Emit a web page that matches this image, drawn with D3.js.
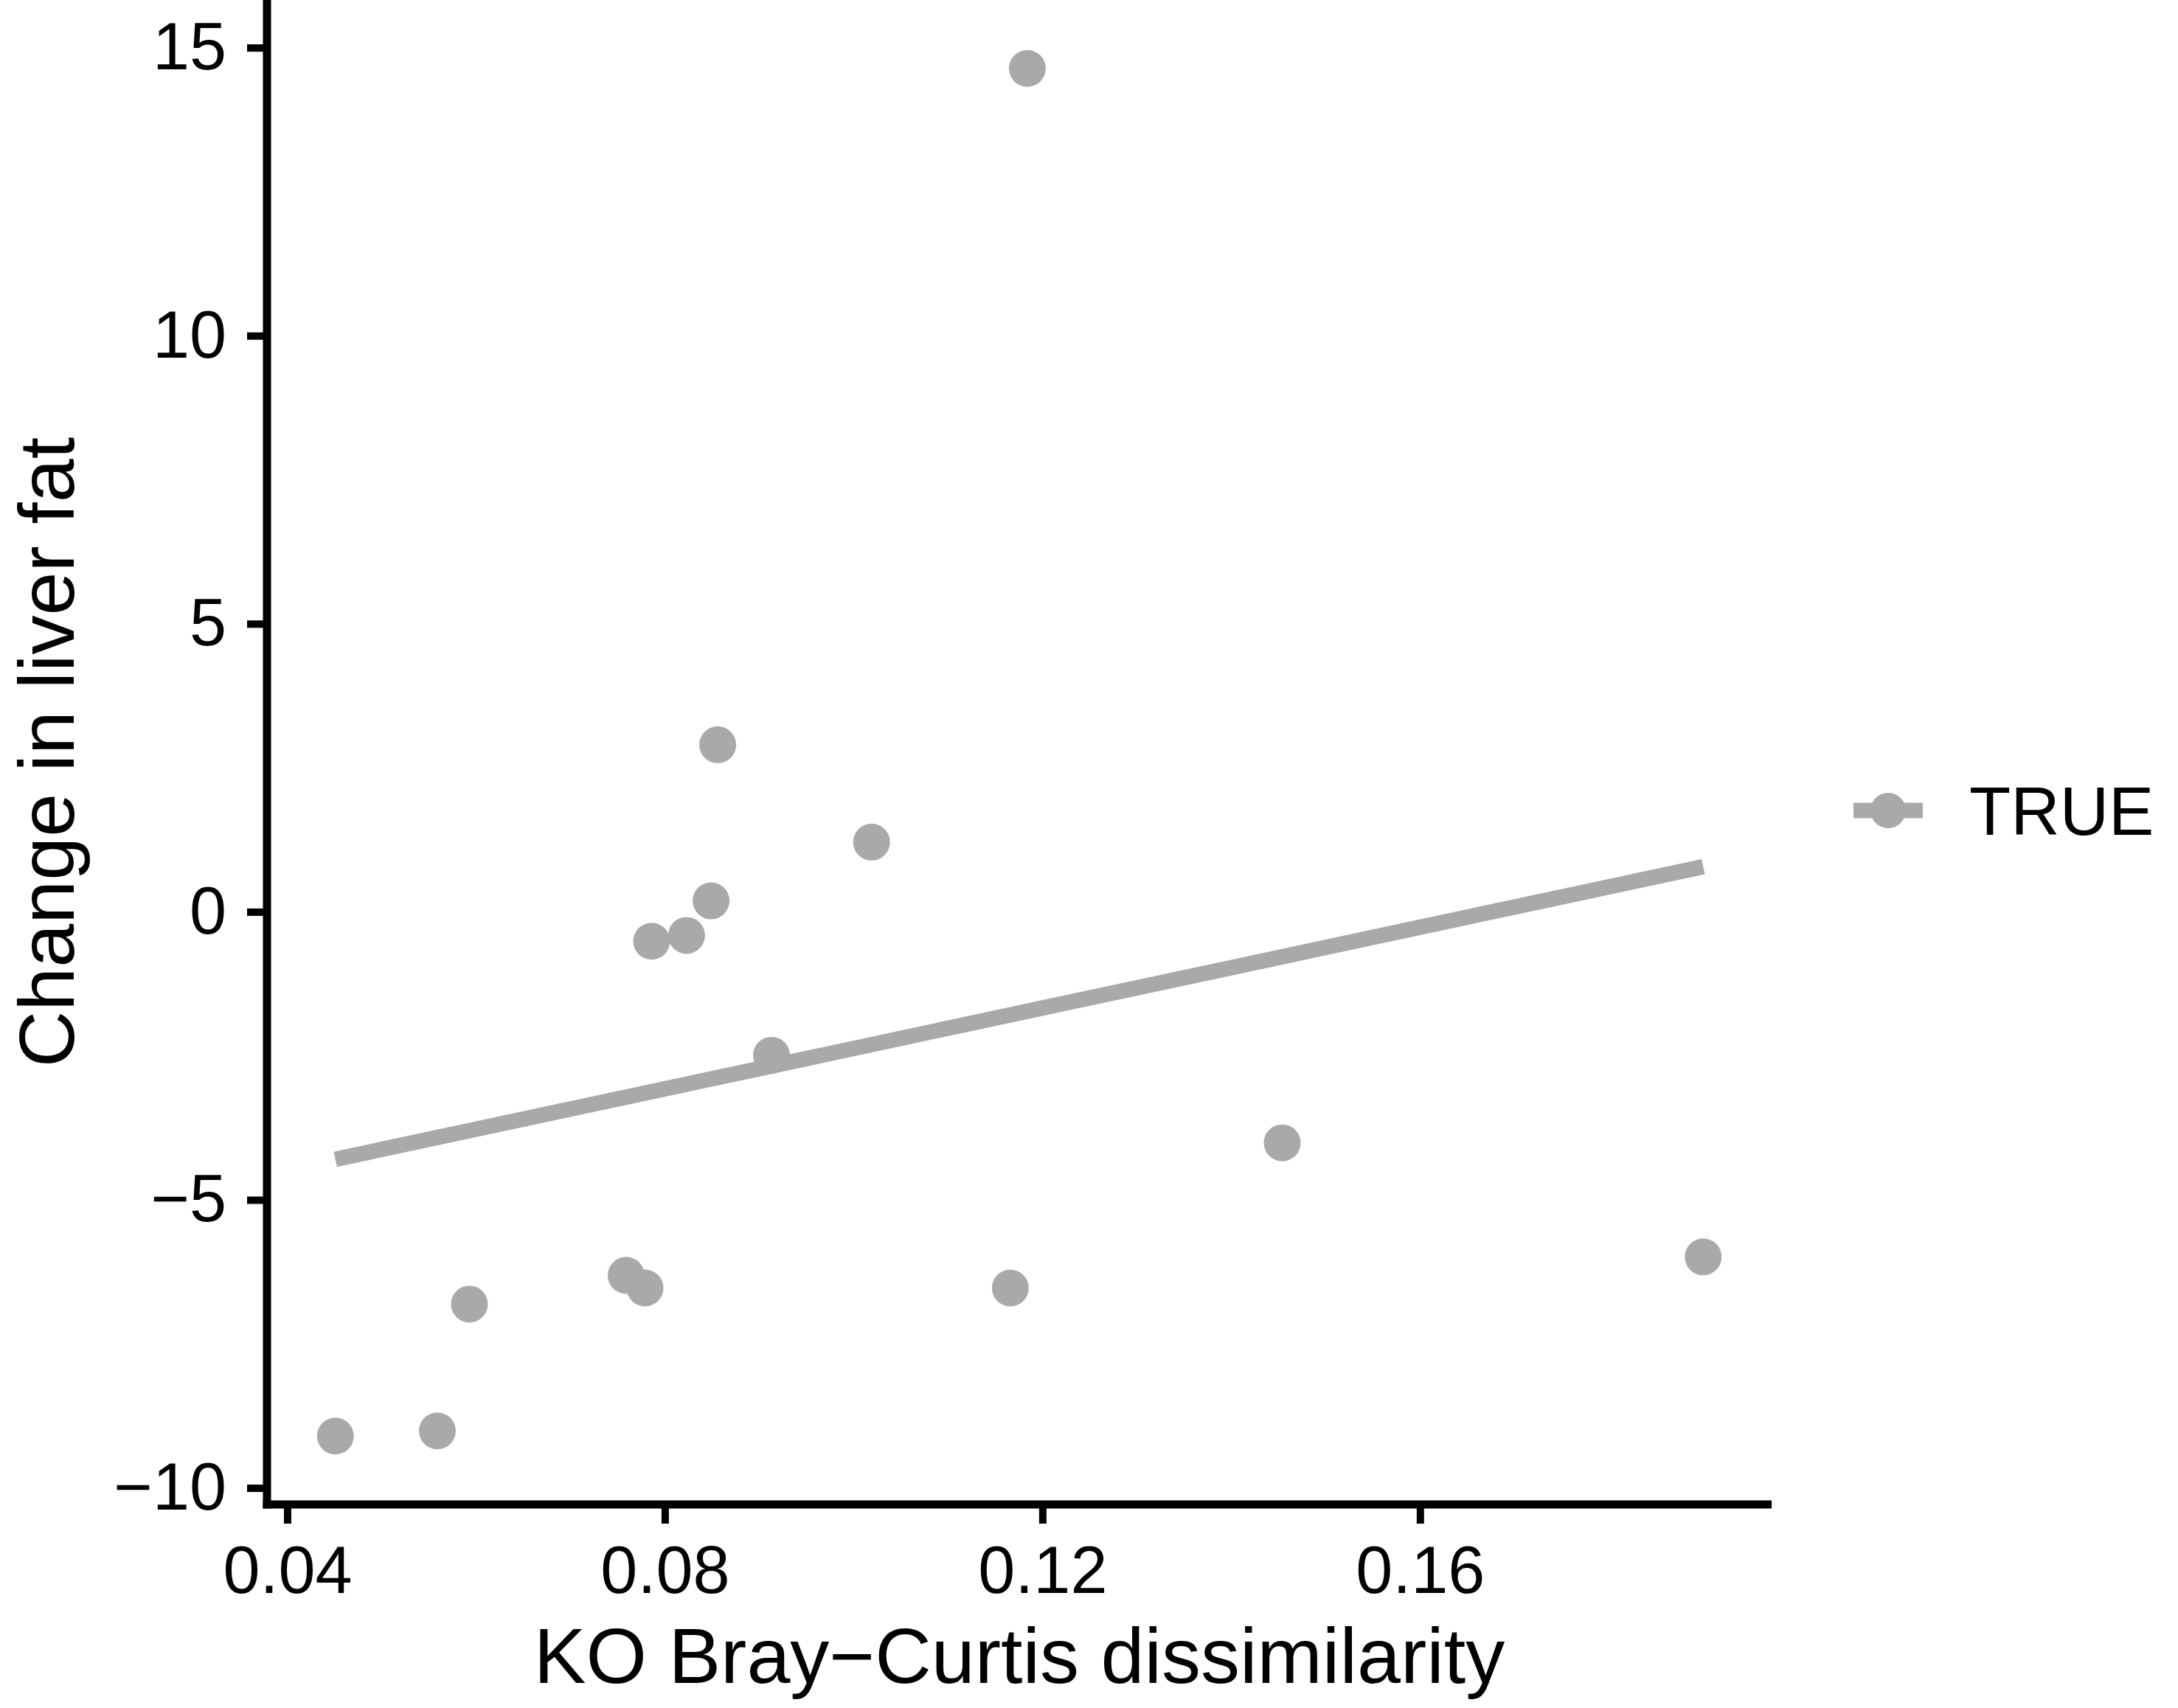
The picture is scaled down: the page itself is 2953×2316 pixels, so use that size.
<!DOCTYPE html>
<html>
<head>
<meta charset="utf-8">
<script src="https://cdn.jsdelivr.net/npm/d3@7"></script>
<style>
  body { margin: 0; background: #fff; }
  text { font-family: "Liberation Sans", Arial, sans-serif; fill: #000; }
</style>
</head>
<body>
<div id="chart"></div>
<script>
// Values
var dissimilarity = [0.0451, 0.0559, 0.0593, 0.0759, 0.0779, 0.1166, 0.1454, 0.1900,
                     0.1184, 0.0856, 0.1019, 0.0849, 0.0786, 0.0823, 0.0913];
var liverFatChange = [-9.10, -9.01, -6.81, -6.31, -6.53, -6.53, -4.01, -5.99,
                      14.64, 2.90, 1.21, 0.19, -0.51, -0.41, -2.49];
var xTicks = [0.04, 0.08, 0.12, 0.16];
var yTicks = [-10, -5, 0, 5, 10, 15];
var legendLabels = ["TRUE"];

var svgWidth = 2953;
var svgHeight = 2316;
var grey = "#a9a9a9";

// panel edges
var panelLeft = 362, panelRight = 2402, panelTop = 0, panelBottom = 2040;

var svg = d3.select("#chart")
  .append("svg")
    .attr("width", svgWidth)
    .attr("height", svgHeight);

// ggplot style 5% expansion on both axes
function expand(values) {
  var ext = d3.extent(values);
  var pad = (ext[1] - ext[0]) * 0.05;
  return [ext[0] - pad, ext[1] + pad];
}

var x = d3.scaleLinear().domain(expand(dissimilarity)).range([panelLeft, panelRight]);
var y = d3.scaleLinear().domain(expand(liverFatChange)).range([panelBottom, panelTop]);

var points = dissimilarity.map(function(d, i) {
  return { x: d, y: liverFatChange[i] };
});

// least squares fit, like geom_smooth(method = "lm")
var mx = d3.mean(dissimilarity), my = d3.mean(liverFatChange);
var sxy = d3.sum(points, function(p) { return (p.x - mx) * (p.y - my); });
var sxx = d3.sum(points, function(p) { return (p.x - mx) * (p.x - mx); });
var slope = sxy / sxx;
var intercept = my - slope * mx;
var fit = d3.extent(dissimilarity).map(function(v) {
  return { x: v, y: intercept + slope * v };
});

// regression line
svg.append("path")
  .datum(fit)
  .attr("fill", "none")
  .attr("stroke", grey)
  .attr("stroke-width", 21)
  .attr("d", d3.line()
    .x(function(d) { return x(d.x); })
    .y(function(d) { return y(d.y); }));

// points
svg.selectAll("circle.pt")
  .data(points)
  .enter()
  .append("circle")
  .attr("class", "pt")
  .attr("cx", function(d) { return x(d.x); })
  .attr("cy", function(d) { return y(d.y); })
  .attr("r", 25)
  .attr("fill", grey);

// axes
var xAxis = svg.append("g")
  .attr("transform", "translate(0," + panelBottom + ")")
  .call(d3.axisBottom(x).tickValues(xTicks).tickSize(26).tickPadding(30)
    .tickFormat(d3.format(".2f")));
var yAxis = svg.append("g")
  .attr("transform", "translate(" + panelLeft + ",0)")
  .call(d3.axisLeft(y).tickValues(yTicks).tickSize(27).tickPadding(28)
    .tickFormat(function(d) { return d < 0 ? "\u2212" + Math.abs(d) : d; }));

[xAxis, yAxis].forEach(function(g) {
  g.select(".domain").remove();
  g.selectAll(".tick line").attr("stroke", "#000").attr("stroke-width", 10);
  g.selectAll(".tick text").style("font-size", "90px").attr("fill", "#000");
});

svg.append("line")
  .attr("x1", panelLeft).attr("x2", panelLeft)
  .attr("y1", panelTop).attr("y2", panelBottom + 5.5)
  .attr("stroke", "#000").attr("stroke-width", 11);
svg.append("line")
  .attr("x1", panelLeft - 5.5).attr("x2", panelRight)
  .attr("y1", panelBottom).attr("y2", panelBottom)
  .attr("stroke", "#000").attr("stroke-width", 11);

// axis titles
svg.append("text")
  .attr("x", (panelLeft + panelRight) / 2)
  .attr("y", 2282)
  .attr("text-anchor", "middle")
  .style("font-size", "106px")
  .text("KO Bray\u2212Curtis dissimilarity");

svg.append("text")
  .attr("transform", "translate(100," + (panelTop + panelBottom) / 2 + ") rotate(-90)")
  .attr("text-anchor", "middle")
  .style("font-size", "106px")
  .text("Change in liver fat");

// legend
var legend = svg.selectAll("g.legend")
  .data(legendLabels)
  .enter()
  .append("g")
  .attr("class", "legend")
  .attr("transform", "translate(2560,1099)");

legend.append("line")
  .attr("x1", -47).attr("x2", 47)
  .attr("stroke", grey).attr("stroke-width", 21);
legend.append("circle")
  .attr("r", 24)
  .attr("fill", grey);
legend.append("text")
  .attr("x", 110)
  .attr("y", 33)
  .style("font-size", "92px")
  .text(function(d) { return d; });
</script>
</body>
</html>
